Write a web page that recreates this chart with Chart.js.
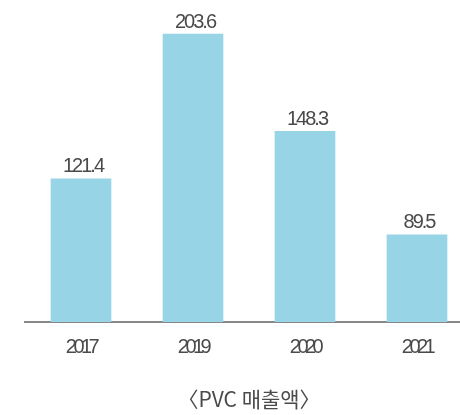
<!DOCTYPE html>
<html>
<head>
<meta charset="utf-8">
<script src="https://cdn.jsdelivr.net/npm/chart.js@4/dist/chart.umd.min.js"></script>
<style>
  html, body { margin: 0; padding: 0; background: #fff; overflow: hidden; width: 460px; height: 415px; }
  #wrap { position: relative; width: 480px; height: 415px; }
</style>
</head>
<body>
<div id="wrap"><canvas id="c" width="480" height="415"></canvas></div>
<script>
const categories = ['2017', '2019', '2020', '2021'];
const salesValues = [121.4, 203.6, 148.3, 89.5];
const chartTitle = '〈PVC 매출액〉';

const barColor = '#97D4E6';
const textColor = '#4a4a4a';
const digitFont = "'Liberation Sans', Arial, sans-serif";

const spacingPlugin = {
  id: 'spacing',
  beforeDraw(chart) {
    const ctx = chart.ctx;
    if ('letterSpacing' in ctx) ctx.letterSpacing = '-3.5px';
    const t = chart.titleBlock;
    if (t && !t._patched) {
      const orig = t.draw.bind(t);
      t.draw = function () {
        ctx.save();
        if ('letterSpacing' in ctx) ctx.letterSpacing = '0px';
        orig();
        ctx.restore();
      };
      t._patched = true;
    }
  }
};

const valueLabels = {
  id: 'valueLabels',
  afterDatasetsDraw(chart) {
    const ctx = chart.ctx;
    const meta = chart.getDatasetMeta(0);
    ctx.save();
    if ('letterSpacing' in ctx) ctx.letterSpacing = '-2px';
    ctx.font = '20px ' + digitFont;
    ctx.fillStyle = textColor;
    ctx.textAlign = 'center';
    ctx.textBaseline = 'bottom';
    meta.data.forEach((bar, i) => {
      ctx.fillText(salesValues[i].toFixed(1), bar.x + 2, bar.y - 2);
    });
    ctx.restore();
  }
};

new Chart(document.getElementById('c'), {
  type: 'bar',
  data: {
    labels: categories,
    datasets: [{
      data: salesValues,
      backgroundColor: barColor,
      borderWidth: 0,
      barThickness: 60
    }]
  },
  options: {
    responsive: false,
    animation: false,
    layout: { padding: { left: 25, right: 7, top: 0, bottom: 0 } },
    plugins: {
      legend: { display: false },
      tooltip: { enabled: false },
      title: {
        display: true,
        text: chartTitle,
        position: 'bottom',
        color: textColor,
        font: { family: "'Noto Sans CJK KR', 'Noto Sans', sans-serif", size: 21, weight: 'normal', lineHeight: 1.0 },
        padding: { top: 17, bottom: 5 }
      }
    },
    scales: {
      x: {
        grid: { display: false, drawTicks: false },
        border: { display: true, color: '#888888', width: 2 },
        ticks: {
          color: textColor,
          padding: 13,
          font: { family: digitFont, size: 20, lineHeight: 1.2 }
        }
      },
      y: {
        display: false,
        min: 40,
        max: 223
      }
    }
  },
  plugins: [spacingPlugin, valueLabels]
});
</script>
</body>
</html>
